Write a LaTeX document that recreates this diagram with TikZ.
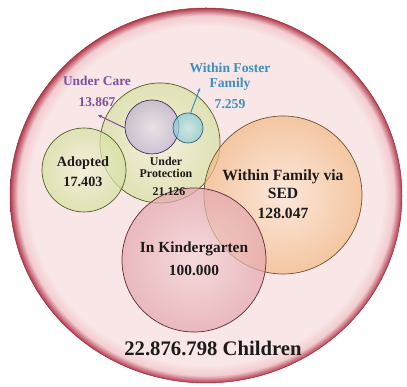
\documentclass[tikz,border=0pt]{standalone}
\usepackage{fontspec}
\setmainfont{Liberation Serif}
\usetikzlibrary{arrows.meta,shapes.geometric}
\definecolor{pinkin}{HTML}{F9E6E6}
\definecolor{pinkmid}{HTML}{F2CCD0}
\definecolor{rimred}{HTML}{B23A4C}
\definecolor{rimline}{HTML}{9A2E3E}
\definecolor{inktxt}{HTML}{1E1A1A}
\definecolor{uctxt}{HTML}{7A50A0}
\definecolor{fostertxt}{HTML}{3A90C0}
\definecolor{greenin}{HTML}{F2F2D8}
\definecolor{greenout}{HTML}{D6E0A0}
\definecolor{greenline}{HTML}{50602A}
\definecolor{carein}{HTML}{E6DEEC}
\definecolor{careout}{HTML}{BFB0D4}
\definecolor{careline}{HTML}{3E3456}
\definecolor{fosterin}{HTML}{C4E6EC}
\definecolor{fosterout}{HTML}{88C8D4}
\definecolor{fosterline}{HTML}{2E6070}
\definecolor{sedin}{HTML}{FDE8D6}
\definecolor{sedout}{HTML}{F3BA86}
\definecolor{sedline}{HTML}{6E5030}
\definecolor{kinderin}{HTML}{F4D6D8}
\definecolor{kinderout}{HTML}{E3A6AE}
\definecolor{kinderline}{HTML}{5E2A32}
\pgfdeclareradialshading{outerrim}{\pgfpoint{0bp}{0bp}}{color(0bp)=(pinkin); color(22.6bp)=(pinkin); color(24bp)=(pinkmid); color(25bp)=(rimred); color(50bp)=(rimred)}

\begin{document}
\begin{tikzpicture}[x=1pt, y=1pt,
	set/.style={circle, inner sep=0pt, line width=0.7pt, fill opacity=0.7, draw opacity=1, inner color=#1in, outer color=#1out, draw=#1line},
	lbl/.style={font=\bfseries, text=inktxt, inner sep=0pt, align=center}]
\useasboundingbox (0,0) rectangle (407,387);
\node[ellipse, shade, shading=outerrim, draw=rimline, line width=0.5pt, minimum width=392pt, minimum height=375pt, inner sep=0pt] (all) at (206,191.5) {};
%	the sets
\node[set=green, minimum size=120pt] (prot) at (160,244) {};
\node[set=green, minimum size=84pt] (adopt) at (84,217) {};
\node[set=care, minimum size=54pt] (care) at (152,260) {};
\node[set=foster, minimum size=30pt] (foster) at (188,259) {};
\node[set=sed, minimum size=158pt] (sed) at (283,192) {};
\node[set=kinder, minimum size=144pt] (kinder) at (194,127) {};
%	labels
\node[lbl, text=uctxt, font=\bfseries\fontsize{13.4}{15}\selectfont] (carelbl) at (97,306) {Under Care};
\node[lbl, text=uctxt, font=\bfseries\fontsize{13.4}{15}\selectfont] (carenum) at (97,285) {13.867};
\coordinate (caretip) at (98,272);
\draw[uctxt, line width=1pt, -{Stealth[length=4pt,width=3.5pt]}] (care.182) -- (caretip);
\node[lbl, text=fostertxt, font=\bfseries\fontsize{13.6}{15}\selectfont] (fosterlbl) at (230,310) {Within Foster\\Family};
\node[lbl, text=fostertxt, font=\bfseries\fontsize{13.6}{15}\selectfont] (fosternum) at (230,283) {7.259};
\coordinate (fostertip) at (200,299);
\draw[fostertxt, line width=1pt, -{Stealth[length=4pt,width=3.5pt]}] (foster.80) -- (fostertip);
\node[lbl, font=\bfseries\fontsize{14.2}{16}\selectfont] (adoptlbl) at (83,224) {Adopted};
\node[lbl, font=\bfseries\fontsize{14.2}{16}\selectfont] (adoptnum) at (83,205) {17.403};
\node[lbl, font=\bfseries\fontsize{11.9}{11.7}\selectfont] (protlbl) at (166,219.5) {Under\\Protection};
\node[lbl, font=\bfseries\fontsize{11.9}{11.7}\selectfont] (protnum) at (169,195) {21.126};
\node[lbl, font=\bfseries\fontsize{15.6}{18}\selectfont] (sedlbl) at (283,203) {Within Family via\\SED};
\node[lbl, font=\bfseries\fontsize{15.6}{18}\selectfont] (sednum) at (283,174) {128.047};
\node[lbl, font=\bfseries\fontsize{15.4}{18}\selectfont] (kinderlbl) at (194,138) {In Kindergarten};
\node[lbl, font=\bfseries\fontsize{15.4}{18}\selectfont] (kindernum) at (194,117) {100.000};
\node[lbl, font=\bfseries\fontsize{20.7}{24}\selectfont] (alllbl) at (213,39) {22.876.798 Children};
\end{tikzpicture}
\end{document}
